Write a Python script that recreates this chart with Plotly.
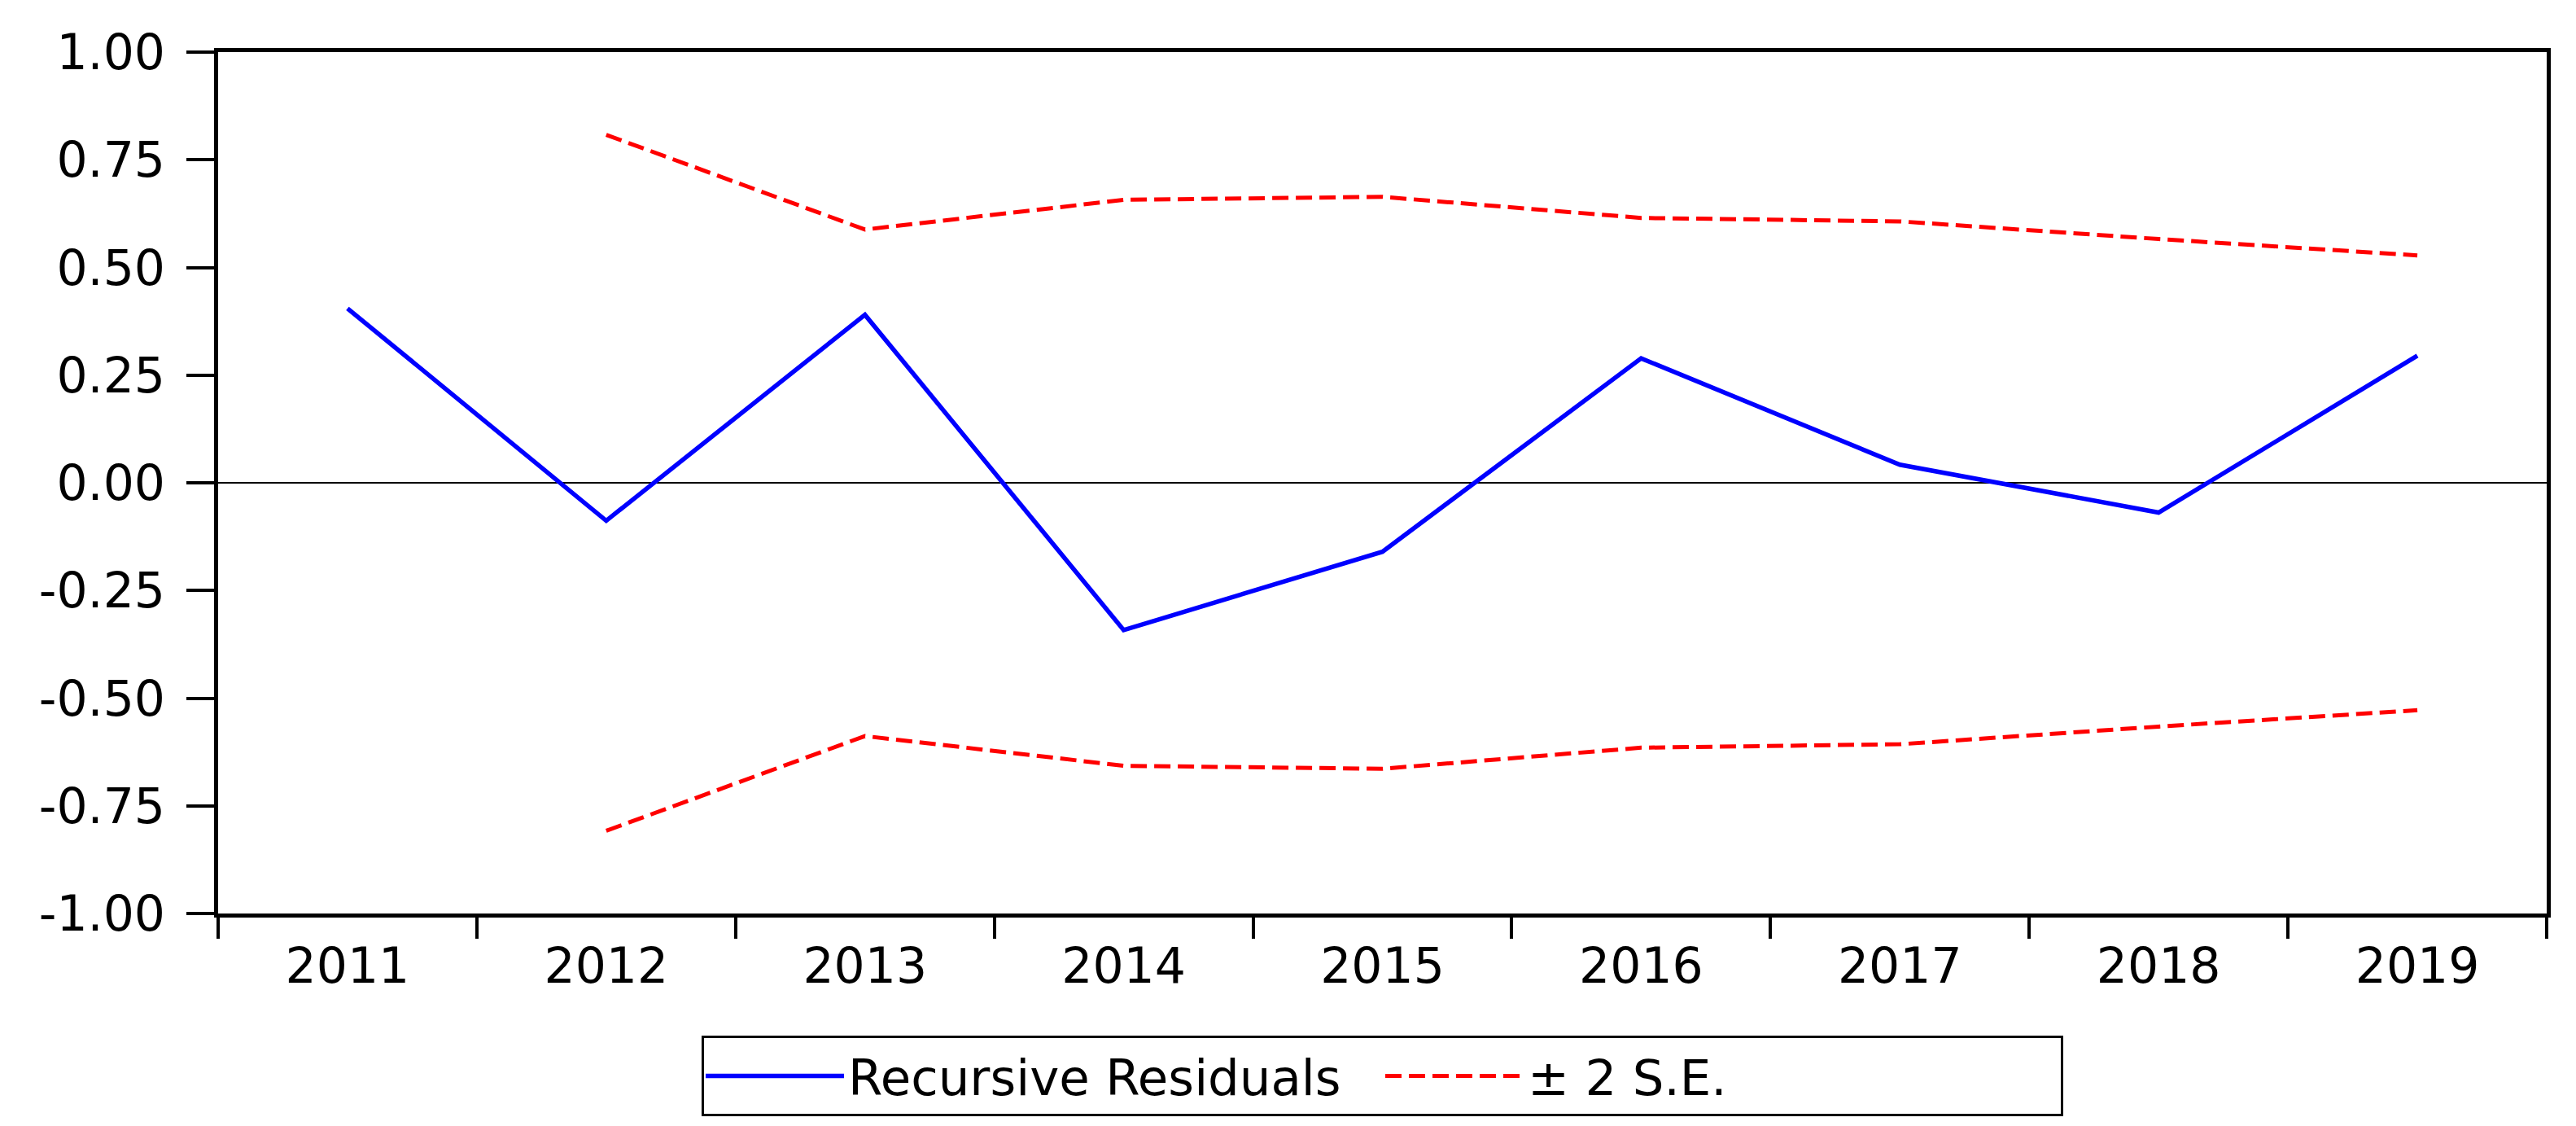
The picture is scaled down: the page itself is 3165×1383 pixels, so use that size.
import plotly.graph_objects as go

years = ["2011", "2012", "2013", "2014", "2015", "2016", "2017", "2018", "2019"]
recursive_residuals = [0.405, -0.088, 0.390, -0.342, -0.160, 0.289, 0.042, -0.069, 0.295]
se_years = ["2012", "2013", "2014", "2015", "2016", "2017", "2018", "2019"]
se_upper = [0.808, 0.588, 0.657, 0.664, 0.615, 0.607, 0.566, 0.528]
se_lower = [-0.808, -0.588, -0.657, -0.664, -0.615, -0.607, -0.566, -0.528]
y_ticks = [-1.0, -0.75, -0.5, -0.25, 0.0, 0.25, 0.5, 0.75, 1.0]

FONT = "DejaVu Sans, Liberation Sans, Arial, sans-serif"

fig = go.Figure()
fig.add_trace(go.Scatter(
    x=years, y=recursive_residuals, mode="lines", name="Recursive Residuals",
    line=dict(color="#0000FF", width=5.5), legendgroup="rr"))
fig.add_trace(go.Scatter(
    x=se_years, y=se_upper, mode="lines", name="\u00b1 2 S.E.",
    line=dict(color="#FF0000", width=5, dash="20px,9px"), legendgroup="se"))
fig.add_trace(go.Scatter(
    x=se_years, y=se_lower, mode="lines", name="\u00b1 2 S.E.", showlegend=False,
    line=dict(color="#FF0000", width=5, dash="20px,9px"), legendgroup="se"))

fig.update_layout(
    width=3165, height=1383,
    margin=dict(l=268, r=36, t=64, b=256),
    paper_bgcolor="white", plot_bgcolor="white",
    font=dict(family=FONT, color="black", size=60),
    showlegend=True,
    legend=dict(
        orientation="h", x=0.5, xanchor="center", y=-0.142, yanchor="top",
        bordercolor="black", borderwidth=3, bgcolor="white",
        font=dict(family=FONT, size=61, color="black"),
        itemwidth=170, entrywidth=650, entrywidthmode="pixels",
    ),
)
fig.update_xaxes(
    type="category", categoryorder="array", categoryarray=years,
    range=[-0.5, len(years) - 0.5],
    tickson="boundaries", ticks="outside", ticklen=26, tickwidth=4, tickcolor="black",
    showline=True, linewidth=5, linecolor="black", mirror=True,
    showgrid=False, zeroline=False, ticklabelstandoff=8,
    tickfont=dict(family=FONT, size=60, color="black"),
)
fig.update_yaxes(
    range=[-1, 1], tickmode="array", tickvals=y_ticks,
    ticktext=[f"{v:.2f}" for v in y_ticks],
    ticks="outside", ticklen=34, tickwidth=4, tickcolor="black",
    showline=True, linewidth=5, linecolor="black", mirror=True,
    showgrid=False, zeroline=True, zerolinecolor="black", zerolinewidth=2,
    ticklabelstandoff=14,
    tickfont=dict(family=FONT, size=60, color="black"),
)

fig.write_html("out.html", config={"displayModeBar": False},
               post_script="document.body.style.margin='0';document.body.style.overflow='hidden';")
